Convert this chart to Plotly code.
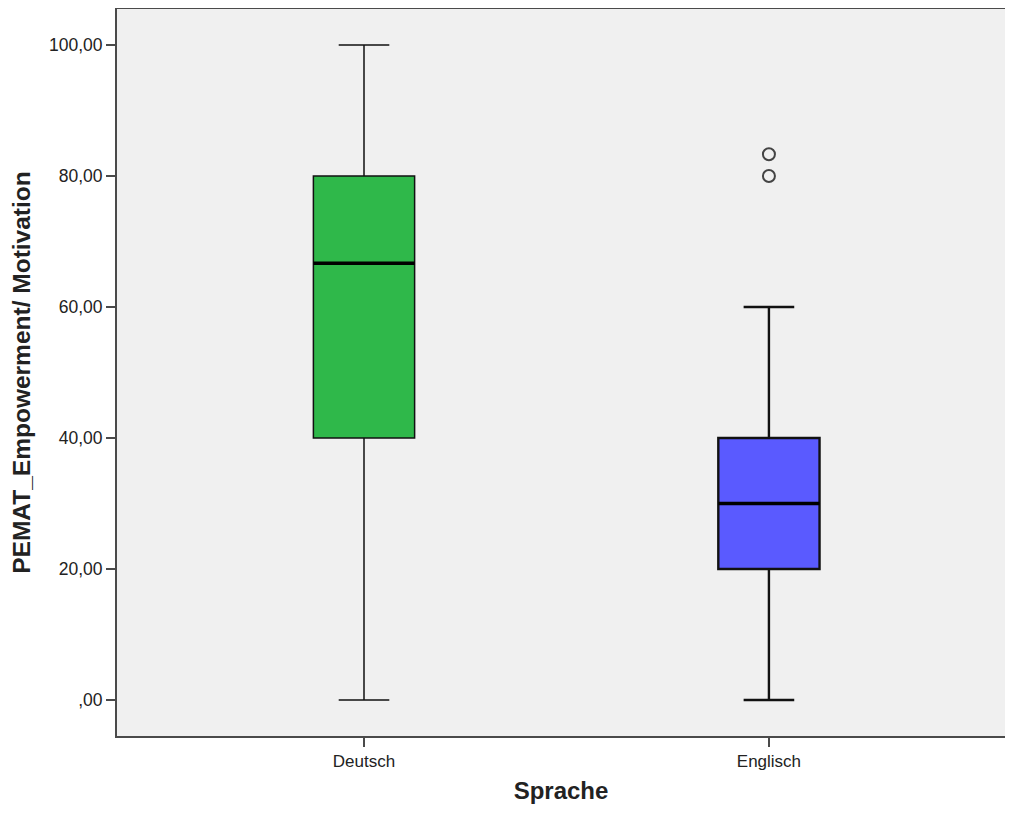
import plotly.graph_objects as go

categories = ["Deutsch", "Englisch"]
positions = [0, 1]
lower_whisker = [0.0, 0.0]
q1 = [40.0, 20.0]
median = [66.67, 30.0]
q3 = [80.0, 40.0]
upper_whisker = [100.0, 60.0]
outliers_x = [1, 1]
outliers_y = [80.0, 83.33]
fill_colors = ["#2fb84a", "#5a5aff"]
whisker_widths = [1.5, 2.4]

tick_vals = [0, 20, 40, 60, 80, 100]
tick_text = [",00", "20,00", "40,00", "60,00", "80,00", "100,00"]

box_w = 0.25

fig = go.Figure()
for i in range(2):
    fig.add_trace(go.Box(
        x=[positions[i]], q1=[q1[i]], median=[median[i]], q3=[q3[i]],
        lowerfence=[lower_whisker[i]], upperfence=[upper_whisker[i]],
        width=box_w, whiskerwidth=0.5,
        fillcolor=fill_colors[i],
        line=dict(color="#111111", width=whisker_widths[i]),
        boxpoints=False, showlegend=False, hoverinfo="skip",
    ))
    # thick median line
    fig.add_trace(go.Scatter(
        x=[positions[i] - box_w / 2, positions[i] + box_w / 2],
        y=[median[i], median[i]], mode="lines",
        line=dict(color="black", width=3.5), showlegend=False, hoverinfo="skip",
    ))

fig.add_trace(go.Scatter(
    x=outliers_x, y=outliers_y, mode="markers",
    marker=dict(symbol="circle-open", size=12, color="#444444", line=dict(width=2)),
    showlegend=False, hoverinfo="skip",
))

font_family = "Liberation Sans, Arial, sans-serif"
fig.update_layout(
    width=997, height=796,
    margin=dict(l=109, r=0, t=1, b=68),
    paper_bgcolor="white", plot_bgcolor="#f0f0f0",
    font=dict(family=font_family, size=17, color="#222222"),
    xaxis=dict(
        range=[-0.61, 1.583], tickvals=positions, ticktext=categories,
        showgrid=False, zeroline=False, automargin=False,
        showline=True, linecolor="#4a4a4a", linewidth=2, mirror=True,
        ticks="outside", ticklen=9, tickcolor="#4a4a4a", tickwidth=2,
        tickfont=dict(size=17, color="#222222"),
        title=dict(text="<b>Sprache</b>", font=dict(size=24, color="#222222"), standoff=21),
    ),
    yaxis=dict(
        range=[-5.5, 105.5], tickvals=tick_vals, ticktext=tick_text,
        showgrid=False, zeroline=False,
        showline=True, linecolor="#4a4a4a", linewidth=2, mirror=False,
        ticks="outside", ticklen=9, tickcolor="#4a4a4a", tickwidth=2,
        tickfont=dict(size=17.5, color="#222222"),
        title=dict(text="<b>PEMAT_Empowerment/ Motivation</b>", font=dict(size=24.5, color="#222222"), standoff=13),
    ),
)

fig.write_html("out.html")
